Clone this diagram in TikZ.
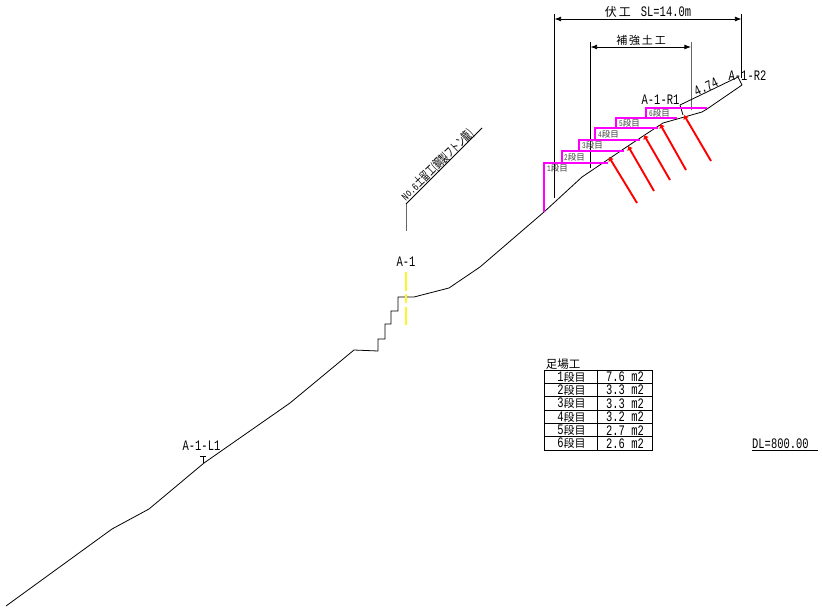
\documentclass[tikz,border=0pt]{standalone}
\usepackage{fontspec}
\setmainfont{Liberation Mono}[FakeStretch=0.72]
\newfontfamily\jp{Noto Sans CJK JP}
\newfontfamily\jpnarrow{Noto Sans CJK JP}[FakeStretch=0.63]
\usetikzlibrary{arrows.meta}
\definecolor{scaffoldpink}{RGB}{255,0,255}

\tikzset{
  label/.style = {inner sep=0pt, font=\fontsize{14.5}{14.5}\selectfont},
  small/.style = {inner sep=0pt, text=black!75, font=\fontsize{8.5}{8.5}\selectfont},
  ground/.style = {line width=.8pt},
  dimline/.style = {line width=.8pt},
  guide/.style = {line width=1pt, black!60},
  scaffold/.style = {line width=2pt, scaffoldpink},
  bolt/.style = {line width=1.9pt, red, {Latex[length=4pt,width=6.5pt]}-}
}

\begin{document}
\begin{tikzpicture}[x=1pt, y=-1pt]
\useasboundingbox (0, 0) rectangle (822, 608);

% terreno
\draw[ground] (6, 606) -- (112, 529) -- (149, 509) -- (204, 463) -- (290, 403)
  -- (354, 350) -- (378, 351) -- (378, 339) -- (385, 339) -- (385, 324)
  -- (391, 324) -- (391, 311) -- (398, 311) -- (398, 297) -- (414, 297)
  -- (449, 288) -- (480, 267) -- (544, 212) -- (582, 177) -- (628, 146)
  -- (663, 123) -- (702, 112) -- (707, 109) -- (742, 85);

% sezione A-1
\node[label] (sec) at (406, 262) {A-1};
\draw[yellow!85!white, line width=1.1pt, dash pattern=on 19pt off 3pt on 9pt off 4pt on 18pt]
  (406, 272) -- (406, 325);

% muro
\coordinate (wallbase) at (406, 231);
\coordinate (walltop) at (406, 204);
\coordinate (wallend) at (482, 128);
\draw[guide] (wallbase) -- (walltop);
\draw[ground] (walltop) -- (wallend);
\node[inner sep=0pt, rotate=44, anchor=base, font=\fontsize{11}{11}\selectfont]
  (wall) at (440, 168) {No.6{\jpnarrow\fontsize{12.5}{12.5}\selectfont 土留工(鋼製フトン籠)}};

% quote
\coordinate (longl) at (554.5, 14);
\coordinate (longr) at (741.5, 14);
\coordinate (innerl) at (590.5, 42);
\coordinate (innerr) at (691, 42);
\draw[dimline] (longl) -- (554.5, 198);
\draw[dimline] (longr) -- (741.5, 78);
\draw[dimline] (innerl) -- (590.5, 168);
\draw[guide] (innerr) -- (691, 110);
\draw[dimline, Latex-Latex] (554.5, 19) -- (741.5, 19);
\draw[dimline, Latex-Latex] (590.5, 47) -- (691, 47);
\node[label] (total) at (648, 12) {{\jp\fontsize{12}{12}\selectfont 伏\,工}\kern10pt SL=14.0m};
\node[label, font=\fontsize{11}{11}\selectfont\jp] (reinf) at (641, 40) {補\,強\,土\,工};

% misura inclinata
\coordinate (slopea) at (680, 105);
\coordinate (slopeb) at (738, 77);
\draw[dimline] (slopea) -- (slopeb);
\draw[dimline] (slopea) -- (683, 115);
\draw[dimline] (slopeb) -- (742, 85);
\node[label, rotate=25] (len) at (706, 87) {4.74};
\node[label] (rone) at (660.5, 100) {A-1-R1};
\node[label] (rtwo) at (747.5, 76) {A-1-R2};

% A-1-L1
\node[label] (lone) at (201.5, 446) {A-1-L1};
\draw[dimline] (200, 456) -- (206, 456);
\draw[dimline] (203, 456) -- (203, 463);

% ponteggi
\draw[scaffold] (543.5, 212) -- (543.5, 162.5) -- (608, 162.5);
\draw[scaffold] (561.5, 162.5) -- (561.5, 151) -- (624, 151);
\draw[scaffold] (579, 151) -- (579, 139.5) -- (640, 139.5);
\draw[scaffold] (595, 139.5) -- (595, 128) -- (658, 128);
\draw[scaffold] (616, 128) -- (616, 118) -- (677, 118);
\draw[scaffold] (646, 118) -- (646, 108) -- (707, 108);

\node[small] (stepa) at (557.5, 168.5) {1{\jp 段目}};
\node[small] (stepb) at (574.5, 157) {2{\jp 段目}};
\node[small] (stepc) at (592.5, 145.5) {3{\jp 段目}};
\node[small] (stepd) at (608.5, 134) {4{\jp 段目}};
\node[small] (stepe) at (629.5, 123) {5{\jp 段目}};
\node[small] (stepf) at (659.5, 113) {6{\jp 段目}};

% chiodi
\draw[bolt] (609, 157) -- (637, 203);
\draw[bolt] (628, 146) -- (654, 191);
\draw[bolt] (644, 135) -- (670, 180);
\draw[bolt] (660, 124) -- (686, 170);
\draw[bolt] (684, 115) -- (711, 161);

% tabella
\node[label, font=\fontsize{11.5}{11.5}\selectfont\jp] (tabtitle) at (563, 364) {足場工};
\draw[line width=.8pt] (544, 370) rectangle (652, 450);
\draw[line width=.8pt] (597, 370) -- (597, 450);
\foreach \i/\a in {1/7.6, 2/3.3, 3/3.3, 4/3.2, 5/2.7, 6/2.6} {
  \draw[line width=.8pt] (544, 370 + 13.33*\i) -- (652, 370 + 13.33*\i);
  \node[label] (row\i) at (571.5, 363.5 + 13.33*\i) {\i{\jp\fontsize{11}{11}\selectfont 段目}};
  \node[label] (area\i) at (625, 363.5 + 13.33*\i) {\a{} m2};
}

% quota di riferimento
\node[label, anchor=south west] (datum) at (752, 449) {DL=800.00};
\coordinate (datumend) at (818, 450);
\draw[dimline] (752, 450) -- (datumend);

\end{tikzpicture}
\end{document}
